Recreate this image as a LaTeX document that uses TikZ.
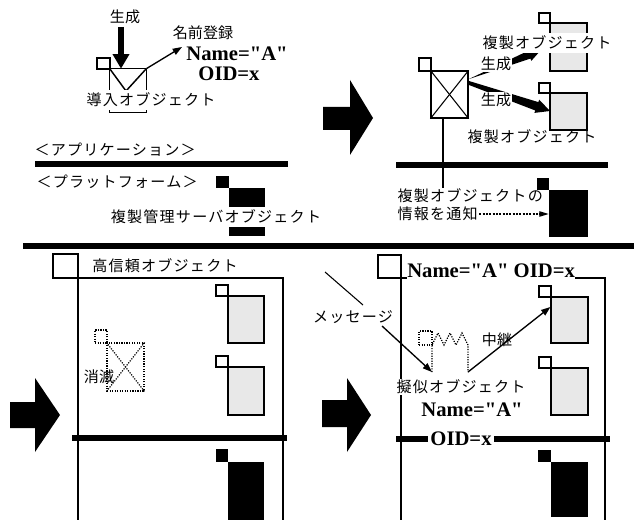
\documentclass[tikz,border=0pt]{standalone}
\usepackage{fontspec}
\setmainfont{Liberation Serif}
\newfontfamily\tnr[BoldFont={Liberation Serif Bold}]{Liberation Serif}
\newfontfamily\jp{Noto Sans CJK JP}
\newfontfamily\jpk[LetterSpace=8]{Noto Sans CJK JP}
\usetikzlibrary{arrows.meta,calc,fit}
\begin{document}
\begin{tikzpicture}[x=0.75pt,y=-0.75pt,
  jk/.style={font=\jp\fontsize{11.3}{13}\selectfont, inner sep=1pt},
  jt/.style={font=\jpk\fontsize{11.3}{13}\selectfont, inner sep=1pt},
  bt/.style={font=\tnr\bfseries\fontsize{15.5}{17}\selectfont, inner sep=1pt},
  lw/.style={line width=0.8pt},
  objbox/.style={draw, line width=0.9pt, inner sep=0pt},
  stip/.style={draw, line width=0.9pt, fill=black!9, inner sep=0pt},
  blk/.style={fill=black, inner sep=0pt},
  dotbox/.style={draw, densely dotted, line width=0.9pt, inner sep=0pt},
  bar/.style={line width=4.5pt},
  wbg/.style={fill=white},
  smallarr/.style={line width=1pt, -{Triangle[length=7pt,width=5pt]}},
]
\useasboundingbox (0,0) rectangle (634,520);

% ---------- top-left panel ----------
\node[jk] (gen1) at (125,17) {生成};
\coordinate (g1s) at (121,27);
\node[objbox, fit={(97,58)(110,69)}] (sq1) {};
\node[fit={(110,69)(146,112)}, inner sep=0pt] (intro) {};
\draw[line width=0.6pt] (intro.north west) -- (intro.south west) -- (intro.south east) -- (intro.north east);
\draw[line width=1.1pt] (intro.north west) -- (intro.north east);
\draw[line width=1.1pt] (intro.north west) -- (126,91) -- (intro.north east);
\node[jt, wbg, inner ysep=2pt] (introl) at (151,100) {導入オブジェクト};
\draw[line width=4.5pt, -{Triangle[length=11pt,width=12pt]}] (g1s) -- (g1s |- intro.north);
\coordinate (nreg) at (182,47);
\draw[smallarr] (intro.north east) -- (nreg);
\node[jk] (namereg) at (203,33) {名前登録};
\node[bt] (nameA1) at (237,54) {Name="A"};
\node[bt] (oid1) at (229,74) {OID=x};

\node[jt, anchor=west] (app) at (33,150) {＜アプリケーション＞};
\draw[bar] (35,164) -- (288,164);
\node[jt, anchor=west] (plat) at (35,182) {＜プラットフォーム＞};
\node[blk, fit={(216,176)(229,188)}] (srvsq) {};
\node[blk, fit={(229,188)(265,236)}] (srv) {};
\node[jt, wbg, inner ysep=2pt] (srvl) at (216,217) {複製管理サーバオブジェクト};

\draw[bar] (23,246) -- (634,246);

% ---------- top-right panel ----------
\fill (323,107) -- (350,107) -- (350,80) -- (373,118) -- (350,155) -- (350,130) -- (323,130) -- cycle;
\node[objbox, fit={(419,58)(431,71)}] (sq2) {};
\node[objbox, fit={(431,71)(468,118)}] (box2) {};
\draw[lw] (box2.north west) -- (box2.south east);
\draw[lw] (box2.north east) -- (box2.south west);
\draw[bar] (396,165) -- (608,165);

\node[objbox, fit={(539,13)(550,23)}] (d1sq) {};
\node[stip, fit={(550,23)(587,71)}] (d1) {};
\node[objbox, fit={(539,83)(550,93)}] (d2sq) {};
\node[stip, fit={(550,93)(587,130)}] (d2) {};

% tapered generation arrows
\fill (469,79) -- (527.4,51.2) -- (526.5,48.9) -- (541,50) -- (531.3,60.9) -- (530.4,58.6) -- cycle;
\fill (469,81) -- (538.3,102.1) -- (539.2,99.7) -- (550,111) -- (534.4,112.9) -- (535.3,110.5) -- (469,85) -- cycle;
\node[jk, wbg] (gen2) at (496,64) {生成};
\node[jk, wbg] (gen3) at (496,100) {生成};
\node[jt, wbg, inner ysep=2pt] (d1l) at (547,43) {複製オブジェクト};
\node[jt] (d2l) at (532,137) {複製オブジェクト};

\node[blk, fit={(537,178)(549,190)}] (srv2sq) {};
\node[blk, fit={(549,190)(588,237)}] (srv2) {};
\node[jt, anchor=west] (notif1) at (396,196) {複製オブジェクトの};
\node[jt, anchor=west] (notif2) at (396,214) {情報を通知};
\draw[lw] (443,118) -- (443,188);
\draw[line width=0.8pt, dash pattern=on 1.5pt off 1pt, -{Triangle[length=7pt,width=4pt]}] (notif2.east) -- (notif2.east -| srv2.west);

% ---------- bottom-left panel ----------
\node[objbox, fit={(53,254)(78,278)}] (sq3) {};
\node[jt] (trust) at (165,266) {高信頼オブジェクト};
\draw[line width=0.9pt] (78,520) -- (78,278) -- (283,278) -- (283,520);
\draw[bar] (72,438) -- (287,438);
\fill (10,402) -- (35,402) -- (35,378) -- (60,415) -- (35,452) -- (35,428) -- (10,428) -- cycle;
\node[objbox, fit={(216,285)(228,296)}] (e1sq) {};
\node[stip, fit={(228,296)(264,343)}] (e1) {};
\node[objbox, fit={(216,356)(228,367)}] (e2sq) {};
\node[stip, fit={(228,367)(264,415)}] (e2) {};
\node[blk, fit={(216,449)(228,462)}] (e3sq) {};
\node[blk, fit={(228,462)(264,520)}] (e3) {};
\node[dotbox, fit={(95,330)(107,343)}] (delsq) {};
\node[dotbox, fit={(107,343)(144,391)}] (del) {};
\draw[densely dotted, line width=0.9pt] (del.north west) -- (del.south east);
\draw[densely dotted, line width=0.9pt] (del.north east) -- (del.south west);
\node[jk] (dell) at (99,377) {消滅};

% ---------- bottom-right panel ----------
\fill (322,400) -- (347,400) -- (347,378) -- (371,415) -- (347,452) -- (347,427) -- (322,427) -- cycle;
\node[objbox, fit={(378,255)(401,278)}] (sq4) {};
\coordinate (ftl) at (401,278);
\node[bt, anchor=base west, inner sep=0pt] (lblA) at (407,277) {Name="A" OID=x};
\draw[line width=0.9pt] (401,520) -- (ftl) -- (lblA.west |- ftl);
\draw[line width=0.9pt] (lblA.east |- ftl) -- (605,278) -- (605,520);
\node[objbox, fit={(539,286)(551,297)}] (f1sq) {};
\node[stip, fit={(551,297)(588,343)}] (f1) {};
\node[objbox, fit={(539,357)(551,368)}] (f2sq) {};
\node[stip, fit={(551,368)(588,415)}] (f2) {};
\node[blk, fit={(538,450)(551,462)}] (f3sq) {};
\node[blk, fit={(551,462)(588,517)}] (f3) {};
\draw[bar] (396,439) -- (610,439);
\node[bt, wbg, inner xsep=2pt, inner ysep=0pt] (oid2) at (461,439) {OID=x};

% pseudo object
\node[dotbox, fit={(419,331)(432,345)}] (psq) {};
\coordinate (pl) at (432,372);
\coordinate (pr) at (468,372);
\draw[densely dotted, line width=0.9pt] (pl) -- (432,345) -- (438,333) -- (444,345) -- (450,333) -- (456,345) -- (462,333) -- (468,345) -- (pr);
\node[jt, wbg] (pseudo) at (461,387) {擬似オブジェクト};
\node[bt] (nameA2) at (472,410) {Name="A"};

\node[jt] (msg) at (353,317) {メッセージ};
\coordinate (m0) at (325,272);
\draw[lw] (m0) -- (363,305);
\draw[smallarr] (382,326) -- (pl);
\draw[smallarr] (pr) -- (f1.west |- 0,307);
\node[jk] (relay) at (497,340) {中継};
\end{tikzpicture}
\end{document}
